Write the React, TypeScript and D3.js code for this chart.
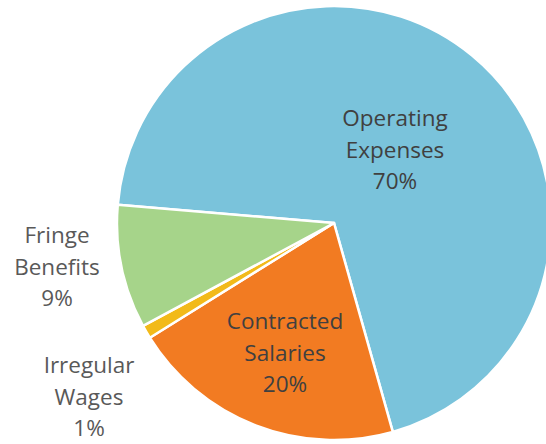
import React from "react";
import * as d3 from "d3";

const categories = ["Operating Expenses", "Contracted Salaries", "Irregular Wages", "Fringe Benefits"];
const values = [69.3, 20.5, 1.0, 9.2];
const percentLabels = ["70%", "20%", "1%", "9%"];
const labelLines = [["Operating", "Expenses"], ["Contracted", "Salaries"], ["Irregular", "Wages"], ["Fringe", "Benefits"]];
const colors = ["#7AC3DB", "#F27B22", "#F2BA1A", "#A6D48A"];

const W = 546;
const H = 444;
const cx = 334;
const cy = 223;
const R = 217;
const startDeg = 274.8;

// label anchor positions (center x, first baseline y)
const labelPos: [number, number][] = [
  [395, 126],
  [285, 329],
  [89, 373],
  [57, 243],
];
const inside = [true, true, false, false];

export default function App() {
  const pie = d3
    .pie<number>()
    .sort(null)
    .value((d) => d)
    .startAngle((startDeg * Math.PI) / 180)
    .endAngle(((startDeg + 360) * Math.PI) / 180);
  const arcs = pie(values);
  const arc = d3.arc<d3.PieArcDatum<number>>().innerRadius(0).outerRadius(R);
  const lh = 31.5;
  return (
    <svg width={W} height={H} style={{ position: "absolute", left: 0, top: 0 }}>
      <rect width={W} height={H} fill="#fff" />
      <g transform={`translate(${cx},${cy})`}>
        {arcs.map((a, i) => (
          <path key={categories[i]} d={arc(a) || ""} fill={colors[i]} stroke="#fff" strokeWidth={2.5} strokeLinejoin="round" />
        ))}
      </g>
      {categories.map((c, i) => {
        const [x, y] = labelPos[i];
        const lines = [...labelLines[i], percentLabels[i]];
        return (
          <text
            key={c}
            x={x}
            y={y}
            textAnchor="middle"
            fontFamily="'Open Sans', sans-serif"
            fontSize={22.5}
            fill={inside[i] ? "#404040" : "#595959"}
          >
            {lines.map((t, j) => (
              <tspan key={j} x={x} y={y + j * lh}>
                {t}
              </tspan>
            ))}
          </text>
        );
      })}
    </svg>
  );
}
